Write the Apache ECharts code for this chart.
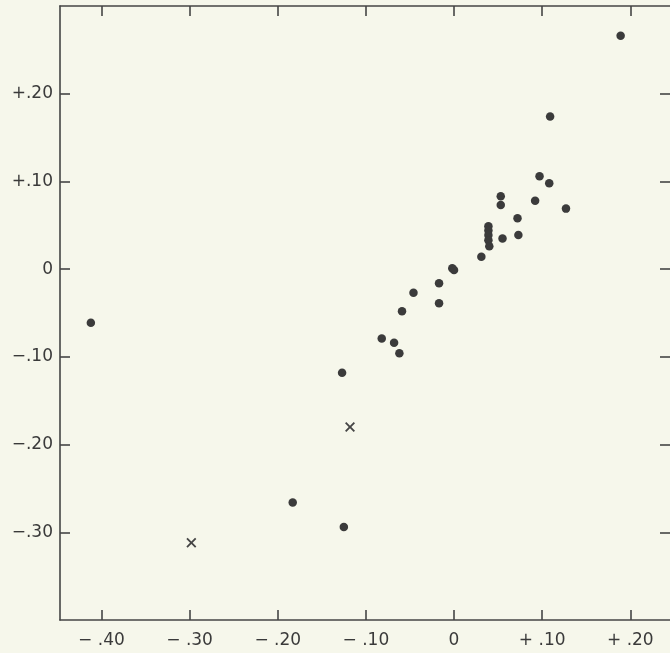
<!DOCTYPE html>
<html><head><meta charset="utf-8">
<script src="https://cdn.jsdelivr.net/npm/echarts@6/dist/echarts.min.js"></script>
<style>html,body{margin:0;padding:0;background:#f6f7eb;}#c{width:670px;height:653px;}</style>
</head><body><div id="c"></div>
<script>
// Data (x, y)
const dotX = [-0.412, 0.189, 0.109, 0.097, 0.108, 0.053, 0.053, 0.092, 0.127, 0.072,
  0.039, 0.039, 0.039, 0.039, 0.040, 0.055, 0.073, 0.031, -0.002, 0.000,
  -0.017, -0.017, -0.046, -0.059, -0.082, -0.068, -0.062, -0.127, -0.183, -0.125];
const dotY = [-0.061, 0.266, 0.174, 0.106, 0.098, 0.083, 0.073, 0.078, 0.069, 0.058,
  0.049, 0.044, 0.039, 0.033, 0.026, 0.035, 0.039, 0.014, 0.001, -0.001,
  -0.016, -0.039, -0.027, -0.048, -0.079, -0.084, -0.096, -0.118, -0.266, -0.294];
const crossX = [-0.298, -0.118];
const crossY = [-0.312, -0.180];
const xTicks = [-0.4, -0.3, -0.2, -0.1, 0, 0.1, 0.2];
const xTickLabels = ['\u2212 .40', '\u2212 .30', '\u2212 .20', '\u2212 .10', '0', '+ .10', '+ .20'];
const yTicks = [-0.3, -0.2, -0.1, 0, 0.1, 0.2];
const yTickLabels = ['\u2212.30', '\u2212.20', '\u2212.10', '0', '+.10', '+.20'];

const axisCol = '#454545';
const textCol = '#3a3a3a';
function lab(vals, labels) {
  return function (v) {
    for (let i = 0; i < vals.length; i++) if (Math.abs(vals[i] - v) < 1e-6) return labels[i];
    return '';
  };
}
const baseX = {
  type: 'value', min: -0.447, max: 0.245,
  splitLine: { show: false },
  axisLine: { show: true, onZero: false, lineStyle: { color: axisCol, width: 1.6 } },
  axisTick: { show: true, inside: true, length: 10, customValues: xTicks, lineStyle: { color: axisCol, width: 1.6 } }
};
const baseY = {
  type: 'value', min: -0.40, max: 0.30,
  splitLine: { show: false },
  axisLine: { show: true, onZero: false, lineStyle: { color: axisCol, width: 1.6 } },
  axisTick: { show: true, inside: true, length: 10, customValues: yTicks, lineStyle: { color: axisCol, width: 1.6 } }
};
const chart = echarts.init(document.getElementById('c'));
chart.setOption({
  backgroundColor: '#f6f7eb',
  animation: false,
  grid: { left: 60, right: 0, top: 6, bottom: 33 },
  xAxis: [
    Object.assign({}, baseX, { position: 'bottom',
      axisLabel: { customValues: xTicks, formatter: lab(xTicks, xTickLabels), margin: 12,
        fontFamily: 'DejaVu Sans', fontSize: 17, color: textCol } }),
    Object.assign({}, baseX, { position: 'top', axisLabel: { show: false } })
  ],
  yAxis: [
    Object.assign({}, baseY, { position: 'left',
      axisLabel: { customValues: yTicks, formatter: lab(yTicks, yTickLabels), margin: 7,
        fontFamily: 'DejaVu Sans', fontSize: 17, color: textCol } }),
    Object.assign({}, baseY, { position: 'right',
      axisLine: { show: false, onZero: false }, axisLabel: { show: false } })
  ],
  series: [
    { type: 'scatter', xAxisIndex: 0, yAxisIndex: 0, symbol: 'circle', symbolSize: 8.5,
      itemStyle: { color: '#3b3b3b', opacity: 1 },
      data: dotX.map((x, i) => [x, dotY[i]]) },
    { type: 'scatter', xAxisIndex: 0, yAxisIndex: 0,
      symbol: 'path://M0,1.3 L1.3,0 L5,3.7 L8.7,0 L10,1.3 L6.3,5 L10,8.7 L8.7,10 L5,6.3 L1.3,10 L0,8.7 L3.7,5 Z',
      symbolSize: 10, itemStyle: { color: '#454545', opacity: 1 },
      data: crossX.map((x, i) => [x, crossY[i]]) }
  ]
});
</script></body></html>
